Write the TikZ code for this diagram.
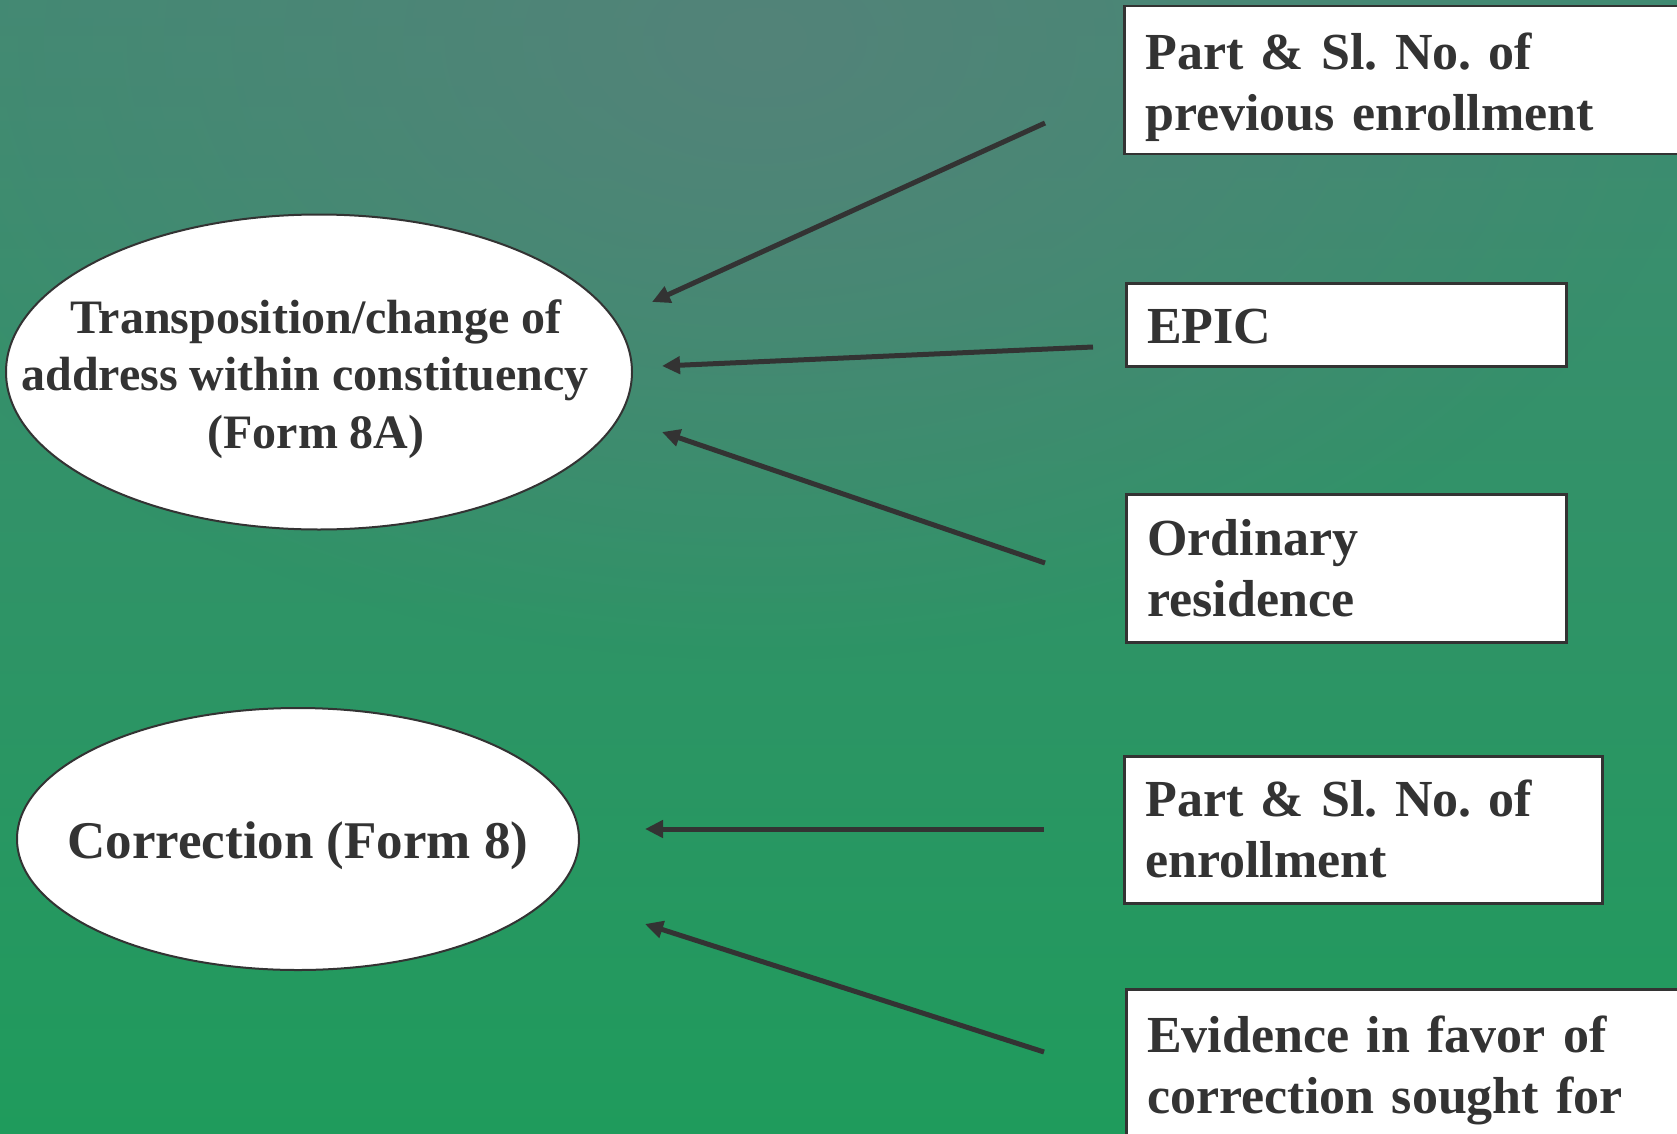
\documentclass[tikz,border=0pt]{standalone}
\usepackage{fontspec}
\setmainfont{Liberation Serif}
\usetikzlibrary{shapes.geometric,arrows.meta,fadings}
\definecolor{ink}{HTML}{333333}
\definecolor{bgtop}{HTML}{408B72}
\definecolor{bgbot}{HTML}{1F9B5C}
\definecolor{haze}{HTML}{538379}
\tikzfading[name=hazefade, inner color=transparent!0, outer color=transparent!100]
\begin{document}
\frenchspacing
\begin{tikzpicture}[x=1pt,y=-1pt,
  infobox/.style={draw=ink, line width=2.5pt, fill=white, rectangle, anchor=north west,
    inner xsep=21pt, inner ysep=0pt, align=left, text=ink,
    font=\fontsize{52}{61.5}\selectfont\bfseries},
  formell/.style={draw=ink, line width=2pt, fill=white, ellipse, inner sep=0pt},
  elltext/.style={align=center, text=ink, inner sep=0pt},
  arr/.style={draw=ink, line width=5pt, -{Triangle[length=18pt,width=17pt]}}]
\useasboundingbox (0,0) rectangle (1677,1134);
\shade[top color=bgtop, bottom color=bgbot] (0,0) rectangle (1677,1134);
\fill[haze, path fading=hazefade] (760,40) ellipse [x radius=950, y radius=620];

% ellipses
\node[formell, minimum width=626pt, minimum height=315pt] (e1) at (319,372) {};
\node[elltext, font=\fontsize{48}{57.5}\selectfont\bfseries] (e1t) at (316,379)
  {Transposition/change of\\address within constituency\rule{22pt}{0pt}\\(Form 8A)};
\node[formell, minimum width=562pt, minimum height=262pt] (e2) at (298,839) {};
\node[elltext, font=\fontsize{53}{60}\selectfont\bfseries] (e2t) at (298,845.5)
  {Correction (Form 8)};

% boxes
\node[infobox, text width=600pt, text height=63pt, text depth=85pt, minimum height=148pt] (b1) at (1123,5)
  {Part \& Sl. No. of\\previous enrollment};
\node[infobox, text width=398pt, text height=60pt, text depth=23pt, minimum height=83pt] (b2) at (1125,282)
  {EPIC};
\node[infobox, text width=398pt, text height=61pt, text depth=87pt, minimum height=148pt] (b3) at (1125,493)
  {Ordinary\\residence};
\node[infobox, text width=436pt, text height=60pt, text depth=87pt, minimum height=147pt] (b4) at (1123,755)
  {Part \& Sl. No. of\\enrollment};
\node[infobox, text width=600pt, text height=63pt, text depth=105pt, minimum height=168pt] (b5) at (1125,988)
  {Evidence in favor of\\correction sought for};

% arrow ends
\coordinate (t1) at (1045,123);  \coordinate (h1) at (652,302);
\coordinate (t2) at (1093,347);  \coordinate (h2) at (662,366);
\coordinate (t3) at (1045,563);  \coordinate (h3) at (662,432);
\coordinate (t4) at (1044,829);  \coordinate (h4) at (645,829);
\coordinate (t5) at (1044,1052); \coordinate (h5) at (645,924);

\draw[arr] (t1) -- (h1);
\draw[arr] (t2) -- (h2);
\draw[arr] (t3) -- (h3);
\draw[arr] (t4) -- (h4);
\draw[arr] (t5) -- (h5);
\end{tikzpicture}
\end{document}
